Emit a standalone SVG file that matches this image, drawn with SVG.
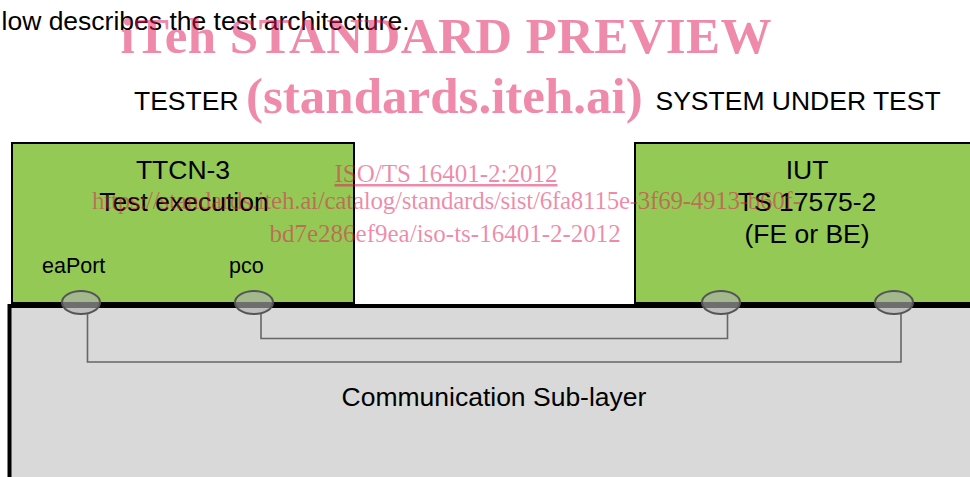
<svg xmlns="http://www.w3.org/2000/svg" width="970" height="477" viewBox="0 0 970 477">
  <style>
    .lbl { font-family: "Liberation Sans", Arial, sans-serif; fill: #000; font-size: 26.5px; }
    .port-lbl { font-family: "Liberation Sans", Arial, sans-serif; fill: #000; font-size: 21.5px; }
    .box { fill: #93c954; stroke: #000; stroke-width: 2; }
    .layer { fill: #d9d9d9; stroke: #000; stroke-width: 4; }
    .port { fill: #afafaf; fill-opacity: 0.63; stroke: #555; stroke-width: 2; }
    .link { fill: none; stroke: #666; stroke-width: 1.6; }
    .wm { font-family: "Liberation Serif", "Times New Roman", serif; fill: rgb(224,22,86); fill-opacity: 0.5; }
    .wm-big { font-size: 51px; font-weight: bold; }
    .wm-small { font-size: 25px; }
  </style>

  <rect width="970" height="477" fill="#fff"/>

  <!-- heading texts -->
  <text class="lbl" x="1.5" y="30">low describes the test architecture.</text>
  <text class="lbl" x="134" y="110">TESTER</text>
  <text class="lbl" x="655.5" y="110">SYSTEM UNDER TEST</text>

  <!-- tester side -->
  <g id="tester">
    <rect class="box" x="12" y="143" width="342" height="160"/>
    <text class="lbl" x="183" y="179" text-anchor="middle">TTCN-3</text>
    <text class="lbl" x="184" y="211" text-anchor="middle">Test execution</text>
    <text class="port-lbl" x="42" y="273">eaPort</text>
    <text class="port-lbl" x="229" y="273">pco</text>
  </g>

  <!-- system under test -->
  <g id="iut">
    <rect class="box" x="635" y="143" width="344" height="160"/>
    <text class="lbl" x="807" y="179" text-anchor="middle">IUT</text>
    <text class="lbl" x="807" y="211" text-anchor="middle">TS 17575-2</text>
    <text class="lbl" x="807" y="243" text-anchor="middle">(FE or BE)</text>
  </g>

  <!-- communication sub-layer -->
  <g id="comm-layer">
    <rect class="layer" x="9.5" y="306" width="980" height="200"/>
    <text class="lbl" x="341.5" y="406">Communication Sub-layer</text>
  </g>

  <!-- ports -->
  <g id="port-eaPort"><ellipse class="port" cx="81" cy="302.5" rx="19" ry="11.5"/></g>
  <g id="port-pco"><ellipse class="port" cx="254" cy="302.5" rx="19" ry="11.5"/></g>
  <g id="port-iut-1"><ellipse class="port" cx="721" cy="302.5" rx="19" ry="11.5"/></g>
  <g id="port-iut-2"><ellipse class="port" cx="894" cy="302.5" rx="19" ry="11.5"/></g>

  <!-- connections through the sub-layer -->
  <g id="connectors">
    <polyline class="link" points="87.5,314 87.5,362 901,362 901,314"/>
    <polyline class="link" points="261,314 261,338.5 727.5,338.5 727.5,314"/>
  </g>

  <!-- watermark -->
  <g id="watermark" class="wm">
    <text class="wm-big" x="120.5" y="53" textLength="651" lengthAdjust="spacing">iTeh STANDARD PREVIEW</text>
    <text class="wm-big" x="246" y="113">(standards.iteh.ai)</text>
    <text class="wm-small" x="334.5" y="182" text-decoration="underline">ISO/TS 16401-2:2012</text>
    <text class="wm-small" x="92" y="208.5" textLength="709" lengthAdjust="spacing">https://standards.iteh.ai/catalog/standards/sist/6fa8115e-3f69-4913-b60f-</text>
    <text class="wm-small" x="269.5" y="242">bd7e286ef9ea/iso-ts-16401-2-2012</text>
  </g>
</svg>
